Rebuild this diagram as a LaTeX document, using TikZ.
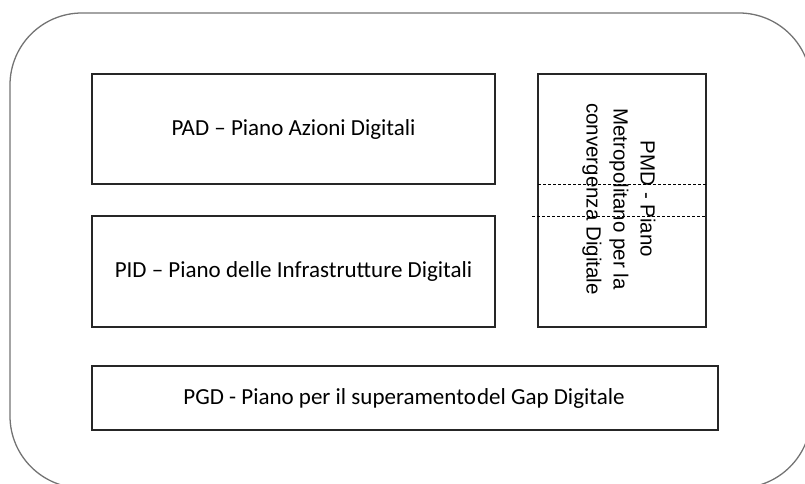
\documentclass[tikz,border=0pt]{standalone}
\usepackage{fontspec}
\setmainfont{Carlito}
\newfontfamily\pmdfont{Liberation Sans}
\begin{document}
\begin{tikzpicture}[x=1pt,y=-1pt,
  plan/.style={draw=black!85, line width=1.1pt, fill=none, inner sep=0pt,
    font=\fontsize{23}{27}\selectfont, text=black},
  frame/.style={draw=black!55, line width=1.3pt, rounded corners=72pt},
  divider/.style={draw=black, line width=0.6pt, dash pattern=on 3pt off 2pt}]
  \useasboundingbox (0,0) rectangle (805,484);
  \begin{scope}
    \clip (0,0) rectangle (805,484);
    \draw[frame] (10,13) rectangle (811,488);
  \end{scope}

  % planning boxes
  \draw[plan] (92,74) rectangle (495,184);
  \node[plan, draw=none] (pad) at (293.5,129) {PAD – Piano Azioni Digitali};

  \draw[plan] (92,216) rectangle (495,327);
  \node[plan, draw=none] (pid) at (293.5,271.5) {PID – Piano delle Infrastrutture Digitali};

  \draw[plan] (538,74) rectangle (706,327);
  \node[plan, draw=none, rotate=-90, align=center,
        font=\pmdfont\fontsize{20.5}{27}\selectfont] (pmd) at (619,199)
    {PMD - Piano\\Metropolitano per la\\convergenza Digitale};

  \draw[plan] (92,366) rectangle (718,430);
  \node[plan, draw=none] (pgd) at (404,398) {PGD - Piano per il superamento\hspace{0.05em}del Gap Digitale};

  % dashed continuations across the PMD box
  \coordinate (d1a) at (538,184);
  \coordinate (d1b) at (706,184);
  \coordinate (d2a) at (532,216);
  \coordinate (d2b) at (706,216);
  \draw[divider] (d1a) -- (d1b);
  \draw[divider] (d2a) -- (d2b);
\end{tikzpicture}
\end{document}
